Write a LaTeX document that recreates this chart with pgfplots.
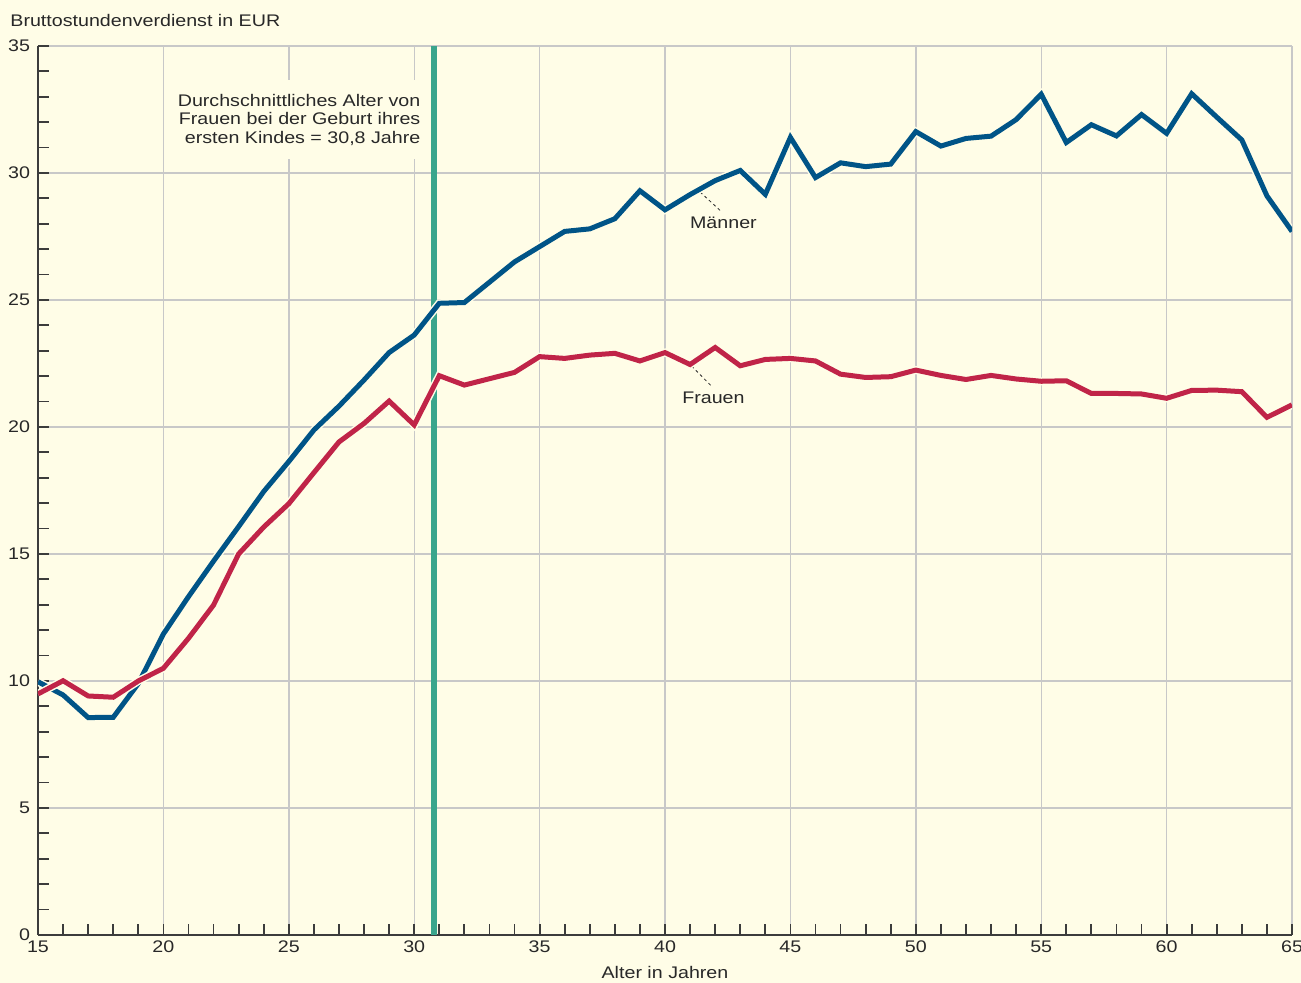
\documentclass[border=0pt]{standalone}
\usepackage{fontspec}
\setmainfont{Liberation Sans}[FakeStretch=1.17]
\usepackage{pgfplots}
\pgfplotsset{compat=1.18}
\definecolor{bg}{RGB}{255,253,231}
\definecolor{axisc}{RGB}{60,60,60}
\definecolor{gridc}{RGB}{200,200,200}
\definecolor{textc}{RGB}{40,40,40}
\definecolor{mblue}{RGB}{0,84,135}
\definecolor{fred}{RGB}{192,36,72}
\definecolor{teal}{RGB}{58,165,140}

\pgfplotstableread{
x y
15 9.97
16 9.45
17 8.56
18 8.57
19 9.9
20 11.85
21 13.32
22 14.72
23 16.08
24 17.46
25 18.64
26 19.88
27 20.82
28 21.85
29 22.93
30 23.62
31 24.87
32 24.9
33 25.7
34 26.5
35 27.1
36 27.7
37 27.8
38 28.2
39 29.3
40 28.55
41 29.15
42 29.7
43 30.1
44 29.16
45 31.4
46 29.82
47 30.4
48 30.25
49 30.35
50 31.63
51 31.06
52 31.36
53 31.45
54 32.1
55 33.1
56 31.2
57 31.9
58 31.46
59 32.3
60 31.56
61 33.12
62 32.2
63 31.3
64 29.1
65 27.7
}\maenner

\pgfplotstableread{
x y
15 9.49
16 10.01
17 9.41
18 9.36
19 10.0
20 10.5
21 11.68
22 12.99
23 15.0
24 16.06
25 16.98
26 18.2
27 19.41
28 20.14
29 21.02
30 20.08
31 22.02
32 21.65
33 21.9
34 22.15
35 22.77
36 22.7
37 22.83
38 22.9
39 22.6
40 22.93
41 22.46
42 23.13
43 22.41
44 22.66
45 22.7
46 22.6
47 22.08
48 21.95
49 21.98
50 22.24
51 22.03
52 21.87
53 22.03
54 21.89
55 21.8
56 21.82
57 21.32
58 21.32
59 21.3
60 21.13
61 21.44
62 21.45
63 21.39
64 20.38
65 20.87
}\frauen

\begin{document}
\fontsize{8.4}{9.15}\selectfont
\begin{tikzpicture}
\fill[bg,use as bounding box] (-19pt,-24pt) rectangle (631.5pt,467.5pt);
\begin{axis}[
  at={(0,0)}, anchor=south west,
  scale only axis, width=627pt, height=444.5pt,
  xmin=15, xmax=65, ymin=0, ymax=35,
  axis x line=bottom, axis y line=left,
  axis line style={-, line width=1.2pt, color=axisc},
  xtick={15,20,...,65}, ytick={0,5,...,35},
  minor x tick num=4, minor y tick num=4,
  tick align=inside,
  major tick length=5.5pt, minor tick length=5.5pt,
  tick style={axisc, line width=0.9pt},
  grid=major,
  major grid style={gridc, line width=0.7pt},
  /pgf/number format/assume math mode=true,
  ticklabel style={font=\fontsize{8.4}{9.15}\selectfont, text=textc},
  yticklabel style={xshift=-1pt},
  xlabel={Alter in Jahren},
  xlabel style={at={(axis description cs:0.5,0)}, anchor=base, yshift=-22pt, font=\fontsize{8.4}{9.15}\selectfont, text=textc},
  clip=true,
]
\addplot[teal, line width=2.8pt] coordinates {(30.8,0) (30.8,35)};
\node[anchor=north east, fill=bg, align=right, inner xsep=3pt, inner ysep=7pt, text=textc, font=\fontsize{8.4}{9.15}\selectfont] at (axis cs:30.5,33.66)
  {Durchschnittliches Alter von\\Frauen bei der Geburt ihres\\ersten Kindes = 30,8 Jahre};
\draw[textc, line width=0.4pt, dash pattern=on 1.5pt off 1.5pt] (axis cs:41.4,29.25) -- (axis cs:42.27,28.46);
\draw[textc, line width=0.4pt, dash pattern=on 1.5pt off 1.5pt] (axis cs:41.06,22.4) -- (axis cs:41.9,21.56);
\node[text=textc, font=\fontsize{8.4}{9.15}\selectfont] at (axis cs:42.33,28.02) {Männer};
\node[text=textc, font=\fontsize{8.4}{9.15}\selectfont] at (axis cs:41.93,21.13) {Frauen};
\addplot[bg, line width=4pt, line join=miter] table {\maenner};
\addplot[mblue, line width=2.5pt, line join=miter] table {\maenner};
\addplot[bg, line width=4pt, line join=miter] table {\frauen};
\addplot[fred, line width=2.5pt, line join=miter] table {\frauen};
\end{axis}
\node[anchor=base west, inner sep=0pt, text=textc] at (-14pt,454pt) {Bruttostundenverdienst in EUR};
\end{tikzpicture}
\end{document}
